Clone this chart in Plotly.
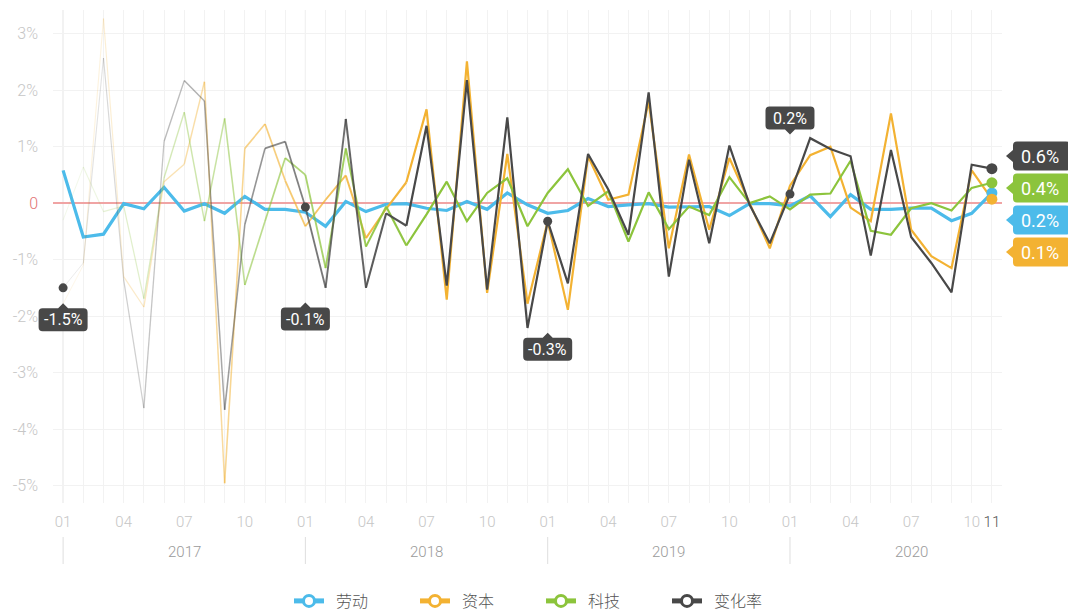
import plotly.graph_objects as go

# ---------------- data ----------------
years = [2017, 2018, 2019, 2020]
months = [f"{y}-{m:02d}" for y in years for m in range(1, 13)][:47]  # 2017-01 .. 2020-11

labor = [0.58, -0.60, -0.55, -0.01, -0.10, 0.28, -0.14, -0.01, -0.18, 0.12, -0.11, -0.11,
         -0.16, -0.41, 0.03, -0.15, -0.02, -0.01, -0.09, -0.13, 0.03, -0.11, 0.18, -0.03,
         -0.18, -0.13, 0.08, -0.06, -0.03, -0.01, -0.07, -0.07, -0.06, -0.22, -0.01, -0.01,
         -0.05, 0.13, -0.24, 0.15, -0.11, -0.11, -0.09, -0.09, -0.31, -0.18, 0.18]
capital = [-1.78, -1.10, 3.27, -1.30, -1.84, 0.38, 0.69, 2.15, -4.96, 0.97, 1.40, 0.40,
           -0.41, 0.06, 0.49, -0.62, -0.10, 0.37, 1.66, -1.71, 2.51, -1.59, 0.87, -1.78,
           -0.32, -1.89, 0.83, 0.06, 0.15, 1.80, -0.80, 0.86, -0.47, 0.80, 0.00, -0.80,
           0.31, 0.85, 1.00, -0.08, -0.32, 1.59, -0.47, -0.94, -1.15, 0.58, 0.07]
tech = [-0.30, 0.64, -0.15, -0.05, -1.69, 0.45, 1.61, -0.32, 1.50, -1.45, -0.32, 0.80,
        0.50, -1.15, 0.97, -0.77, -0.06, -0.75, -0.20, 0.38, -0.32, 0.18, 0.44, -0.41,
        0.18, 0.60, -0.05, 0.21, -0.68, 0.19, -0.46, -0.06, -0.21, 0.46, 0.00, 0.12,
        -0.11, 0.15, 0.17, 0.75, -0.49, -0.56, -0.09, 0.00, -0.13, 0.27, 0.36]
rate = [-1.50, -1.06, 2.57, -1.36, -3.63, 1.09, 2.17, 1.81, -3.66, -0.38, 0.97, 1.09,
        -0.07, -1.50, 1.49, -1.50, -0.18, -0.40, 1.37, -1.46, 2.18, -1.53, 1.52, -2.21,
        -0.32, -1.42, 0.87, 0.24, -0.56, 1.96, -1.30, 0.77, -0.71, 1.02, -0.03, -0.71,
        0.16, 1.15, 0.96, 0.83, -0.93, 0.94, -0.60, -1.06, -1.58, 0.68, 0.61]

series_names = ["劳动", "资本", "科技", "变化率"]
series_values = [labor, capital, tech, rate]
series_colors = ["#4cbbea", "#f3b232", "#8cc43c", "#484848"]

x_tick_idx = [0, 3, 6, 9, 12, 15, 18, 21, 24, 27, 30, 33, 36, 39, 42, 45, 46]
x_tick_text = ["01", "04", "07", "10"] * 4 + ["11"]
y_tick_vals = [-5, -4, -3, -2, -1, 0, 1, 2, 3]
y_tick_text = ["-5%", "-4%", "-3%", "-2%", "-1%", "0", "1%", "2%", "3%"]

# ---------------- styling / geometry ----------------
FIG_W, FIG_H = 1068, 614
L, T, R, B = 53, 10, 66, 111
PW, PH = FIG_W - L - R, FIG_H - T - B
XMIN, XMAX = -0.5, 46.5
YMIN, YMAX = -5.31, 3.42
FONT = "Roboto, Lato, 'Noto Sans CJK SC', sans-serif"
TICK_COLOR = "#c6c6c6"

year_label_offsets = [32, 112, 128, -76]          # px offset of black label box from its dot
end_label_centers = [156, 188, 220, 252]          # px centers of right-side labels
end_label_order = [3, 2, 0, 1]                    # series order top->bottom


def px_x(i):
    return L + (i - XMIN) / (XMAX - XMIN) * PW


def px_y(v):
    return T + (YMAX - v) / (YMAX - YMIN) * PH


def to_paper(px, py):
    return (px - L) / PW, 1 - (py - T) / PH


def box_path(x0, y0, x1, y1, r, pointer=None, p=5):
    cx, cy = (x0 + x1) / 2, (y0 + y1) / 2
    pts = []

    def P(cmd, *xy):
        s = cmd
        for k in range(0, len(xy), 2):
            a, b = to_paper(xy[k], xy[k + 1])
            s += f" {a:.5f},{b:.5f}"
        pts.append(s)

    P("M", x0 + r, y0)
    if pointer == "up":
        P("L", cx - p, y0); P("L", cx, y0 - p); P("L", cx + p, y0)
    P("L", x1 - r, y0); P("Q", x1, y0, x1, y0 + r)
    P("L", x1, y1 - r); P("Q", x1, y1, x1 - r, y1)
    if pointer == "down":
        P("L", cx + p, y1); P("L", cx, y1 + p); P("L", cx - p, y1)
    P("L", x0 + r, y1); P("Q", x0, y1, x0, y1 - r)
    if pointer == "left":
        P("L", x0, cy + p); P("L", x0 - p - 1, cy); P("L", x0, cy - p)
    P("L", x0, y0 + r); P("Q", x0, y0, x0 + r, y0)
    return " ".join(pts) + " Z"


xs = list(range(len(months)))
fig = go.Figure()

# ---------------- lines ----------------
RAMP = 17
for s, (name, vals, col) in enumerate(zip(series_names, series_values, series_colors)):
    if s == 0:
        fig.add_trace(go.Scatter(x=xs, y=vals, mode="lines", line=dict(color=col, width=3.2),
                                 showlegend=False, hoverinfo="skip"))
        continue
    for k in range(RAMP):
        op = 0.1 + 0.9 * k / RAMP
        w = 1.0 + 1.2 * k / RAMP
        fig.add_trace(go.Scatter(x=xs[k:k + 2], y=vals[k:k + 2], mode="lines",
                                 line=dict(color=col, width=w), opacity=op,
                                 showlegend=False, hoverinfo="skip"))
    fig.add_trace(go.Scatter(x=xs[RAMP:], y=vals[RAMP:], mode="lines",
                             line=dict(color=col, width=2.2),
                             showlegend=False, hoverinfo="skip"))

# year-start dots of 变化率
year_idx = [0, 12, 24, 36]
fig.add_trace(go.Scatter(x=year_idx, y=[rate[i] for i in year_idx], mode="markers",
                         marker=dict(color=series_colors[3], size=9),
                         showlegend=False, hoverinfo="skip"))
# end dots
last = len(months) - 1
for vals, col in zip(series_values, series_colors):
    fig.add_trace(go.Scatter(x=[last], y=[vals[last]], mode="markers",
                             marker=dict(color=col, size=11),
                             showlegend=False, hoverinfo="skip"))

# legend entries
for name, col in zip(series_names, series_colors):
    fig.add_trace(go.Scatter(x=[None], y=[None], mode="lines+markers", name="  " + name,
                             line=dict(color=col, width=5),
                             marker=dict(color="white", size=11, line=dict(color=col, width=3))))

shapes = []
annotations = []

# year separator lines in plot + below axis
for yi in year_idx:
    shapes.append(dict(type="line", xref="x", yref="paper", x0=yi, x1=yi, y0=0, y1=1,
                       line=dict(color="#dedede", width=1), layer="below"))
    _, ya = to_paper(0, 537)
    _, yb = to_paper(0, 564)
    shapes.append(dict(type="line", xref="x", yref="paper", x0=yi, x1=yi, y0=ya, y1=yb,
                       line=dict(color="#dedede", width=1)))

# year labels
for n, yr in enumerate(years):
    _, yp = to_paper(0, 552)
    annotations.append(dict(x=12 * n + 6, y=yp, xref="x", yref="paper", text=str(yr),
                            showarrow=False,
                            font=dict(family=FONT, size=15, color="#9a9a9a", weight=300),
                            xanchor="center", yanchor="middle"))

# black labels at year starts
for yi, dy in zip(year_idx, year_label_offsets):
    cx, cy = px_x(yi), px_y(rate[yi]) + dy
    w, h = 49, 23
    ptr = "up" if dy > 0 else "down"
    shapes.append(dict(type="path", xref="paper", yref="paper",
                       path=box_path(cx - w / 2, cy - h / 2, cx + w / 2, cy + h / 2, 4, ptr),
                       fillcolor=series_colors[3], line=dict(width=0)))
    ax, ay = to_paper(cx, cy)
    annotations.append(dict(x=ax, y=ay, xref="paper", yref="paper", text=f"{rate[yi]:.1f}%",
                            showarrow=False, font=dict(family=FONT, size=16, color="white"),
                            xanchor="center", yanchor="middle"))

# right-side end labels
for s, cy in zip(end_label_order, end_label_centers):
    x0, x1 = 1013, 1070
    h = 29
    shapes.append(dict(type="path", xref="paper", yref="paper",
                       path=box_path(x0, cy - h / 2, x1, cy + h / 2, 4, "left", p=6),
                       fillcolor=series_colors[s], line=dict(width=0)))
    ax, ay = to_paper(1040, cy)
    annotations.append(dict(x=ax, y=ay, xref="paper", yref="paper",
                            text=f"{series_values[s][last]:.1f}%",
                            showarrow=False, font=dict(family=FONT, size=18, color="white"),
                            xanchor="center", yanchor="middle"))

tick_text_x = [t if i < len(x_tick_text) - 1 else f"<span style='color:#555'>{t}</span>"
               for i, t in enumerate(x_tick_text)]
tick_text_y = [f"<span style='color:#e27474'>{t}</span>" if v == 0 else t
               for v, t in zip(y_tick_vals, y_tick_text)]

_, leg_y = to_paper(0, 601)
leg_x, _ = to_paper(289, 0)

fig.update_layout(
    width=FIG_W, height=FIG_H,
    margin=dict(l=L, r=R, t=T, b=B, autoexpand=False),
    paper_bgcolor="white", plot_bgcolor="white",
    shapes=shapes, annotations=annotations,
    showlegend=True,
    legend=dict(orientation="h", x=leg_x, xanchor="left", y=leg_y, yanchor="middle",
                font=dict(family="'Noto Sans CJK SC', sans-serif", size=16, color="#555",
                          weight=300),
                entrywidth=81, itemclick=False, bgcolor="rgba(0,0,0,0)"),
    xaxis=dict(range=[XMIN, XMAX], tickmode="array", tickvals=x_tick_idx, ticktext=tick_text_x,
               showgrid=False, zeroline=False, showline=False, ticks="",
               tickfont=dict(family=FONT, size=15, color=TICK_COLOR, weight=300),
               ticklabelstandoff=8,
               minor=dict(tickmode="linear", tick0=0, dtick=1, showgrid=True,
                          gridcolor="#f2f2f2", gridwidth=1, ticks="")),
    yaxis=dict(range=[YMIN, YMAX], tickmode="array", tickvals=y_tick_vals, ticktext=tick_text_y,
               showgrid=True, gridcolor="#f2f2f2", gridwidth=1,
               zeroline=True, zerolinecolor="#f0a4a4", zerolinewidth=1.5,
               showline=False, ticks="", ticklabelstandoff=14,
               tickfont=dict(family=FONT, size=16, color=TICK_COLOR, weight=300)),
)

fig.write_html("out.html", config={"displayModeBar": False},
               post_script="document.body.style.margin='0';document.body.style.overflow='hidden';")
